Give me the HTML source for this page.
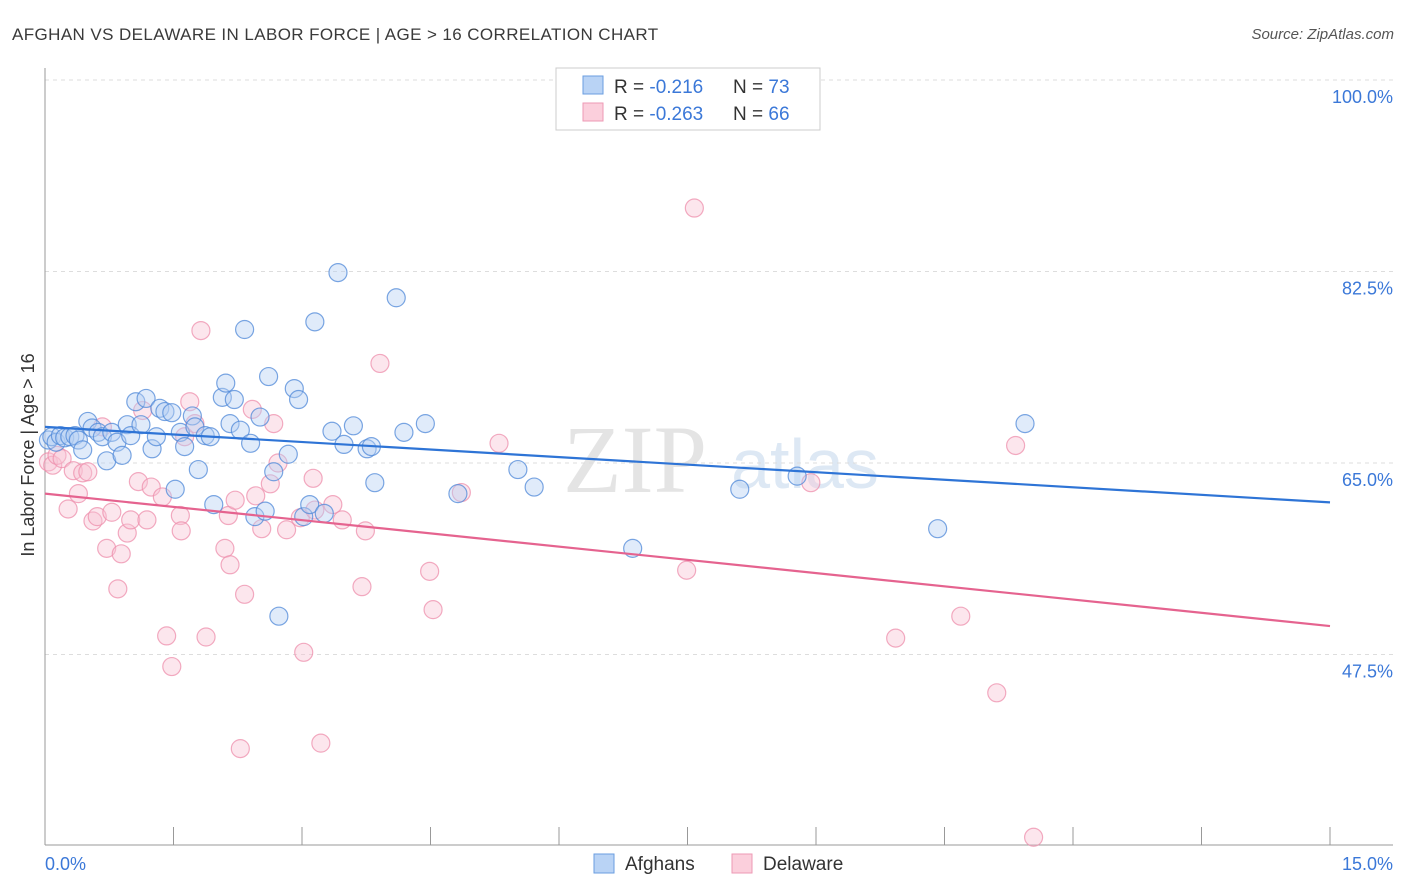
<!DOCTYPE html>
<html><head><meta charset="utf-8"><style>
body{margin:0;background:#fff;font-family:"Liberation Sans",sans-serif;}
svg{display:block}
</style></head><body>
<svg id="chart" width="1406" height="892">
<text x="12" y="40" font-size="17" fill="#3a3a3a" letter-spacing="0.4">AFGHAN VS DELAWARE IN LABOR FORCE | AGE &gt; 16 CORRELATION CHART</text>
<text x="1394" y="39" font-size="15" fill="#555" font-style="italic" text-anchor="end">Source: ZipAtlas.com</text>
<text x="635" y="492" font-size="96" fill="#e4e4e4" font-family="Liberation Serif,serif" text-anchor="middle">ZIP</text>
<text x="805" y="488" font-size="70" fill="#dde8f4" text-anchor="middle">atlas</text>
<g id="grid"></g>
<g id="axes"></g>
<g id="marks"></g>
<text transform="translate(34,455) rotate(-90)" font-size="18" fill="#333" text-anchor="middle">In Labor Force | Age &gt; 16</text>
<text x="45" y="870" font-size="18" fill="#3b78d8">0.0%</text>
<text x="1393" y="870" font-size="18" fill="#3b78d8" text-anchor="end">15.0%</text>
<g>
<rect x="556" y="68" width="264" height="62" fill="#fff" stroke="#ccc"/>
<rect x="583" y="76" width="20" height="18" fill="#b9d3f5" stroke="#6a9ee0"/>
<rect x="583" y="103" width="20" height="18" fill="#fbcfdc" stroke="#ee9ab4"/>
<text x="614" y="93" font-size="19" fill="#333">R = <tspan fill="#3b78d8">-0.216</tspan><tspan x="733">N = </tspan><tspan fill="#3b78d8">73</tspan></text>
<text x="614" y="120" font-size="19" fill="#333">R = <tspan fill="#3b78d8">-0.263</tspan><tspan x="733">N = </tspan><tspan fill="#3b78d8">66</tspan></text>
</g>
<g>
<rect x="594" y="854" width="20" height="19" fill="#b9d3f5" stroke="#6a9ee0"/>
<text x="625" y="870" font-size="19" fill="#333">Afghans</text>
<rect x="732" y="854" width="20" height="19" fill="#fbcfdc" stroke="#ee9ab4"/>
<text x="763" y="870" font-size="19" fill="#333">Delaware</text>
</g>
</svg>
<script>
const yTicks=[100,82.5,65,47.5];
const yTickLabels=["100.0%","82.5%","65.0%","47.5%"];
const xTicks=[0,1.5,3,4.5,6,7.5,9,10.5,12,13.5,15];
const afghanX=[0.04,0.08,0.13,0.18,0.23,0.29,0.35,0.39,0.44,0.50,0.55,0.62,0.67,0.72,0.78,0.84,0.90,0.96,1.00,1.06,1.12,1.18,1.25,1.30,1.34,1.40,1.48,1.52,1.58,1.63,1.72,1.75,1.79,1.87,1.93,1.97,2.07,2.11,2.16,2.21,2.28,2.33,2.40,2.45,2.51,2.57,2.61,2.67,2.73,2.84,2.91,2.96,3.02,3.09,3.15,3.26,3.35,3.42,3.49,3.60,3.76,3.81,3.85,4.10,4.19,4.44,4.82,5.52,5.71,6.86,8.11,8.78,10.42,11.44];
const afghanY=[67.1,67.4,66.9,67.5,67.3,67.4,67.5,67.1,66.2,68.8,68.2,67.8,67.4,65.2,67.8,66.9,65.7,68.5,67.5,70.6,68.5,70.9,66.3,67.4,70.0,69.7,69.6,62.6,67.8,66.5,69.3,68.3,64.4,67.5,67.4,61.2,71.0,72.3,68.6,70.8,68.0,77.2,66.8,60.1,69.2,60.6,72.9,64.2,51.0,65.8,71.8,70.8,60.1,61.2,77.9,60.4,67.9,82.4,66.7,68.4,66.3,66.5,63.2,80.1,67.8,68.6,62.2,64.4,62.8,57.2,62.6,63.8,59.0,68.6];
const delX=[0.04,0.09,0.14,0.20,0.27,0.33,0.39,0.44,0.50,0.56,0.61,0.67,0.72,0.78,0.85,0.89,0.96,1.00,1.09,1.14,1.19,1.24,1.37,1.42,1.48,1.58,1.59,1.63,1.69,1.75,1.82,1.88,2.10,2.14,2.16,2.22,2.28,2.33,2.42,2.46,2.53,2.63,2.67,2.72,2.82,2.98,3.02,3.13,3.15,3.22,3.36,3.47,3.70,3.74,3.91,4.49,4.53,4.86,5.30,7.49,7.58,8.94,9.93,10.69,11.11,11.33,11.54];
const delY=[65.1,64.8,65.7,65.4,60.8,64.3,62.2,64.1,64.2,59.7,60.1,68.3,57.2,60.5,53.5,56.7,58.6,59.8,63.3,69.8,59.8,62.8,61.9,49.2,46.4,60.2,58.8,67.4,70.6,68.6,77.1,49.1,57.2,60.2,55.7,61.6,38.9,53.0,69.9,62.0,59.0,63.1,68.6,65.0,58.9,60.0,47.7,63.6,60.7,39.4,61.2,59.8,53.7,58.8,74.1,55.1,51.6,62.3,66.8,55.2,88.3,63.2,49.0,51.0,44.0,66.6,30.8];
const trendAfghan=[68.3,61.4];
const trendDel=[62.2,50.1];
const xs=v=>45+v*(1285/15);
const ys=v=>80+(100-v)*10.943;
const NS="http://www.w3.org/2000/svg";
function mk(t,a,p){const e=document.createElementNS(NS,t);for(const k in a)e.setAttribute(k,a[k]);p.appendChild(e);return e;}
const grid=document.getElementById('grid'),axes=document.getElementById('axes'),marks=document.getElementById('marks');
yTicks.forEach((t,i)=>{
 const l=mk('line',{x1:45,x2:1393,y1:ys(t),y2:ys(t),stroke:'#ddd','stroke-dasharray':'4,4'},grid);
 
 
 const tx=mk('text',{x:1393,y:ys(t)+23,'font-size':18,fill:'#3b78d8','text-anchor':'end'},grid);
 tx.textContent=yTickLabels[i];
 
 
});
const ya=mk('line',{x1:45,x2:45,y1:68,y2:845,stroke:'#999'},axes);


const xa=mk('line',{x1:45,x2:1393,y1:845,y2:845,stroke:'#999'},axes);


xTicks.forEach(t=>{
 const l=mk('line',{x1:xs(t),x2:xs(t),y1:827,y2:845,stroke:'#999'},axes);
 
 
});
function pts(X,Y,fill,stroke,name){
 X.forEach((x,i)=>{
  const c=mk('circle',{cx:xs(x),cy:ys(Y[i]),r:9,fill:fill,'fill-opacity':0.42,stroke:stroke,'stroke-opacity':0.75,'stroke-width':1.2},marks);
  
  
 });
}
pts(delX,delY,'#f8c3d3','#ee8fac','delaware-point');
pts(afghanX,afghanY,'#b5d0f3','#4f88d8','afghan-point');
const t1=mk('line',{x1:xs(0),x2:xs(15),y1:ys(trendAfghan[0]),y2:ys(trendAfghan[1]),stroke:'#2e74d6','stroke-width':2.2},marks);


const t2=mk('line',{x1:xs(0),x2:xs(15),y1:ys(trendDel[0]),y2:ys(trendDel[1]),stroke:'#e5638f','stroke-width':2.2},marks);


</script>
</body></html>
